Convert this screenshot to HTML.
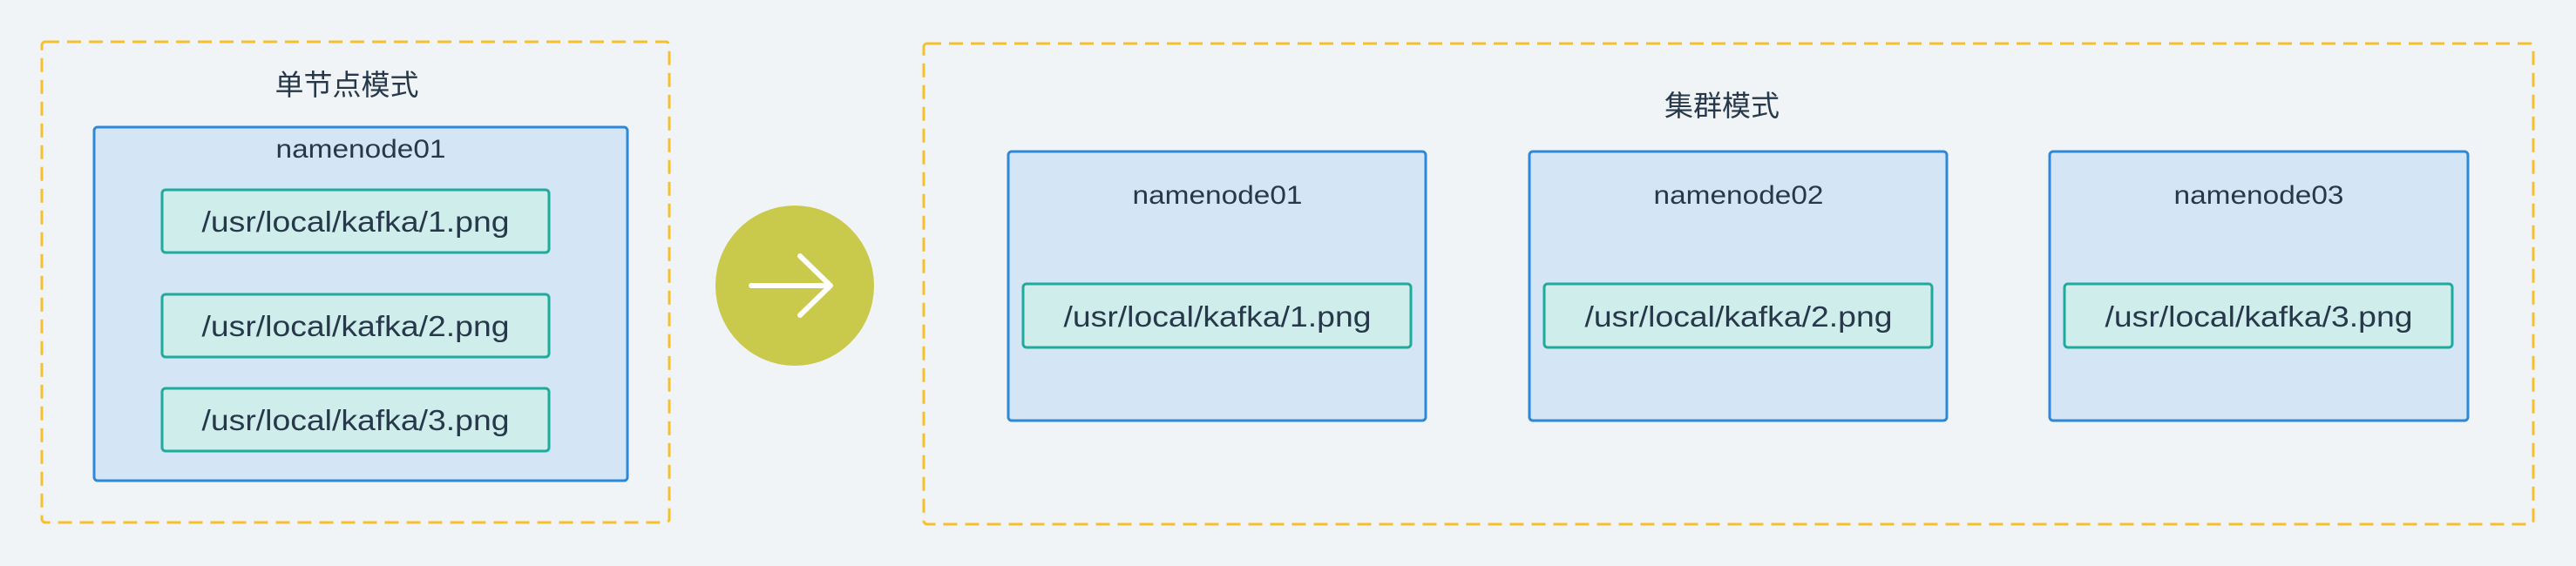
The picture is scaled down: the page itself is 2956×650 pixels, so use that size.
<!DOCTYPE html>
<html><head><meta charset="utf-8"><style>
html,body{margin:0;padding:0;background:#f1f4f7;}
svg{display:block}
text{font-family:"Liberation Sans","Noto Sans CJK SC",sans-serif;fill:#27384a;}
</style></head><body>
<svg width="2956" height="650" viewBox="0 0 2956 650" xmlns="http://www.w3.org/2000/svg">
<rect x="0" y="0" width="2956" height="650" fill="#f1f4f7"/>
<!-- left dashed -->
<rect x="48" y="48" width="720" height="552" rx="4" fill="none" stroke="#f6c02c" stroke-width="3" stroke-dasharray="16 9"/>
<text x="398" y="109" font-size="33" text-anchor="middle">单节点模式</text>
<rect x="108" y="146" width="612" height="406" rx="4" fill="#d4e6f6" stroke="#2d88d8" stroke-width="3"/>
<text x="414" y="181" font-size="30" text-anchor="middle" textLength="195" lengthAdjust="spacingAndGlyphs">namenode01</text>
<g>
<rect x="186" y="218" width="444" height="72" rx="4" fill="#ceedeb" stroke="#1eab9b" stroke-width="3"/>
<text x="408" y="266" font-size="33" text-anchor="middle" textLength="353" lengthAdjust="spacingAndGlyphs">/usr/local/kafka/1.png</text>
<rect x="186" y="338" width="444" height="72" rx="4" fill="#ceedeb" stroke="#1eab9b" stroke-width="3"/>
<text x="408" y="386" font-size="33" text-anchor="middle" textLength="353" lengthAdjust="spacingAndGlyphs">/usr/local/kafka/2.png</text>
<rect x="186" y="446" width="444" height="72" rx="4" fill="#ceedeb" stroke="#1eab9b" stroke-width="3"/>
<text x="408" y="494" font-size="33" text-anchor="middle" textLength="353" lengthAdjust="spacingAndGlyphs">/usr/local/kafka/3.png</text>
</g>
<!-- circle arrow -->
<ellipse cx="912" cy="328" rx="91" ry="92" fill="#c9c94b"/>
<path d="M862 328 H953 M918 294 L953 328 L918 362" fill="none" stroke="#ffffff" stroke-width="6" stroke-linecap="round" stroke-linejoin="round"/>
<!-- right dashed -->
<rect x="1060" y="50" width="1847" height="552" rx="4" fill="none" stroke="#f6c02c" stroke-width="3" stroke-dasharray="16 9"/>
<text x="1976" y="133" font-size="33" text-anchor="middle">集群模式</text>
<g>
<rect x="1157" y="174" width="479" height="309" rx="4" fill="#d4e6f6" stroke="#2d88d8" stroke-width="3"/>
<text x="1397" y="234" font-size="30" text-anchor="middle" textLength="195" lengthAdjust="spacingAndGlyphs">namenode01</text>
<rect x="1174" y="326" width="445" height="73" rx="4" fill="#ceedeb" stroke="#1eab9b" stroke-width="3"/>
<text x="1397" y="375" font-size="33" text-anchor="middle" textLength="353" lengthAdjust="spacingAndGlyphs">/usr/local/kafka/1.png</text>
<rect x="1755" y="174" width="479" height="309" rx="4" fill="#d4e6f6" stroke="#2d88d8" stroke-width="3"/>
<text x="1995" y="234" font-size="30" text-anchor="middle" textLength="195" lengthAdjust="spacingAndGlyphs">namenode02</text>
<rect x="1772" y="326" width="445" height="73" rx="4" fill="#ceedeb" stroke="#1eab9b" stroke-width="3"/>
<text x="1995" y="375" font-size="33" text-anchor="middle" textLength="353" lengthAdjust="spacingAndGlyphs">/usr/local/kafka/2.png</text>
<rect x="2352" y="174" width="480" height="309" rx="4" fill="#d4e6f6" stroke="#2d88d8" stroke-width="3"/>
<text x="2592" y="234" font-size="30" text-anchor="middle" textLength="195" lengthAdjust="spacingAndGlyphs">namenode03</text>
<rect x="2369" y="326" width="445" height="73" rx="4" fill="#ceedeb" stroke="#1eab9b" stroke-width="3"/>
<text x="2592" y="375" font-size="33" text-anchor="middle" textLength="353" lengthAdjust="spacingAndGlyphs">/usr/local/kafka/3.png</text>
</g>
</svg>
</body></html>
